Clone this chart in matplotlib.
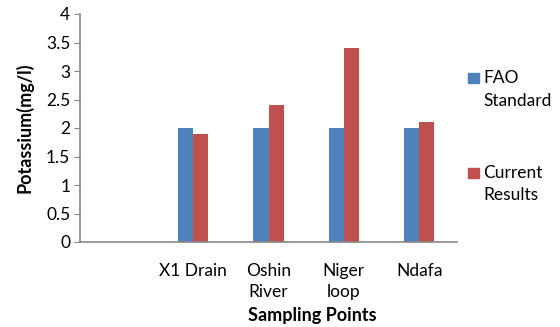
import numpy as np
import matplotlib
matplotlib.use("Agg")
import matplotlib.pyplot as plt
from matplotlib.patches import Rectangle

categories = ["", "X1 Drain", "Oshin\nRiver", "Niger\nloop", "Ndafa"]
fao_standard = [np.nan, 2.0, 2.0, 2.0, 2.0]
current_results = [np.nan, 1.9, 2.4, 3.4, 2.1]
series_labels = ["FAO\nStandard", "Current\nResults"]
colors = ["#4F81BD", "#C0504D"]

plt.rcParams['font.family'] = ['Lato', 'DejaVu Sans']
FS = 12.5

fig = plt.figure(figsize=(5.6, 3.27), dpi=100)
ax = fig.add_axes([80/560, 1-242/327, (457-80)/560, (242-14)/327])

x = np.arange(len(categories))
w = 0.2
ax.bar(x - w/2, fao_standard, w, color=colors[0])
ax.bar(x + w/2, current_results, w, color=colors[1])

ax.set_xlim(-0.5, len(categories) - 0.5)
ax.set_ylim(0, 4)
ax.set_yticks(np.arange(0, 4.01, 0.5))
ax.set_yticklabels(["0", "0.5", "1", "1.5", "2", "2.5", "3", "3.5", "4"])
ax.set_xticks(x)
ax.set_xticklabels(categories, linespacing=1.4)

for s in ["top", "right"]:
    ax.spines[s].set_visible(False)
for s in ["left", "bottom"]:
    ax.spines[s].set_color("#868686")
    ax.spines[s].set_linewidth(1.2)
ax.tick_params(axis="y", direction="out", length=4, color="#868686", labelsize=FS, pad=3)
ax.tick_params(axis="x", length=0, labelsize=FS, pad=15)

ax.set_ylabel("Potassium(mg/l)", fontsize=13, fontweight="bold", labelpad=9)
fig.text(312/560, 1-315/327, "Sampling Points", fontsize=13, fontweight="bold",
         ha="center", va="center")

# legend (manual, marker aligned with first text line)
legend_y = [78, 173]
for lab, col, yc in zip(series_labels, colors, legend_y):
    fig.patches.append(Rectangle((468/560, 1-(yc+5)/327), 11/560, 10/327,
                                 transform=fig.transFigure, color=col, figure=fig))
    fig.text(483/560, 1-(yc-8)/327, lab, fontsize=FS, va="top", ha="left",
             linespacing=1.5)

fig.savefig("out.png", dpi=100)
